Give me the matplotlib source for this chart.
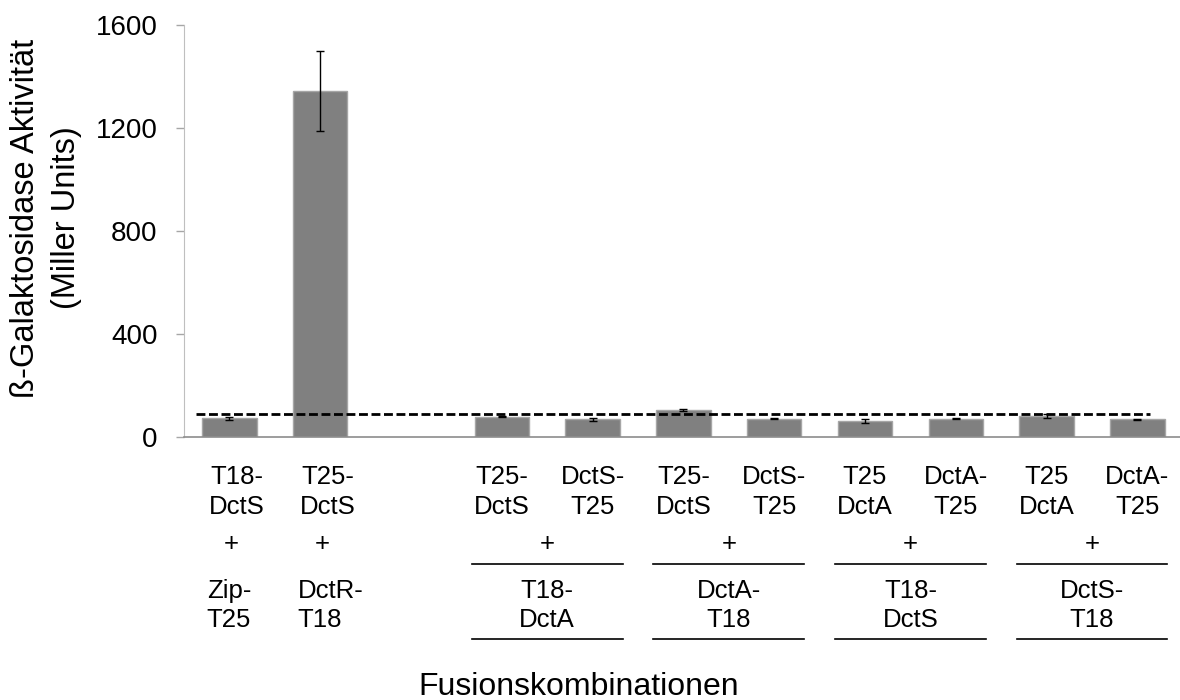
import numpy as np
import matplotlib
matplotlib.use("Agg")
import matplotlib.pyplot as plt
from matplotlib.transforms import blended_transform_factory

plt.rcParams['font.family'] = ['Liberation Sans', 'DejaVu Sans']

# bar slots (slot 2 is left empty)
positions = [0, 1, 3, 4, 5, 6, 7, 8, 9, 10]
values = [72, 1345, 79, 69, 105, 71, 62, 71, 81, 69]
errors = [6, 155, 3, 5, 3, 2, 6, 2, 7, 2]
threshold = 90

top_labels = ["T18-\nDctS", "T25-\nDctS",
              "T25-\nDctS", "DctS-\nT25",
              "T25-\nDctS", "DctS-\nT25",
              "T25\nDctA", "DctA-\nT25",
              "T25\nDctA", "DctA-\nT25"]

single_pos = [0, 1]
single_partners = ["Zip-\nT25", "DctR-\nT18"]

group_pos = [(3, 4), (5, 6), (7, 8), (9, 10)]
group_partners = ["T18-\nDctA", "DctA-\nT18", "T18-\nDctS", "DctS-\nT18"]

W, H = 1180, 700
fig = plt.figure(figsize=(W / 100, H / 100), dpi=100)
ax = fig.add_axes([184 / W, 263 / H, 998.8 / W, 412 / H])

ax.bar(positions, values, width=0.6, color='#808080', edgecolor='#a6a6a6', linewidth=1, zorder=2)
ax.errorbar(positions, values, yerr=errors, fmt='none', ecolor='black', elinewidth=1,
            capsize=3, capthick=1, zorder=3)
ax.plot([-0.37, 10.14], [threshold, threshold], color='black', lw=2,
        linestyle=(0, (3.2, 1.3)), zorder=4)

ax.set_xlim(-0.5, 10.5)
ax.set_ylim(0, 1600)
ax.set_yticks([0, 400, 800, 1200, 1600])
ax.set_xticks([])
ax.tick_params(axis='y', length=6, width=1, color='#a6a6a6', labelsize=20, pad=13)
for s in ['top', 'right']:
    ax.spines[s].set_visible(False)
ax.spines['left'].set_color('#bfbfbf')
ax.spines['bottom'].set_color('#8c8c8c')
ax.spines['bottom'].set_linewidth(1.2)

trans = blended_transform_factory(ax.transData, fig.transFigure)

def fy(py):
    return 1 - py / H

def put_lines(x, text, baselines, ha='center'):
    for line, b in zip(text.split("\n"), baselines):
        ax.text(x, fy(b), line, transform=trans, ha=ha, va='baseline', fontsize=18.5)

# first row of labels
for p, lab in zip(positions, top_labels):
    off = 0.08 if p in single_pos else 0
    put_lines(p + off, lab, [484, 514])

# plus signs and partners
for p, lab in zip(single_pos, single_partners):
    put_lines(p + 0.02, "+", [551])
    put_lines(p - 0.25, lab, [598, 627], ha='left')

for (a, b), lab in zip(group_pos, group_partners):
    c = (a + b) / 2
    put_lines(c, "+", [551])
    put_lines(c, lab, [598, 627])
    for py in [564, 639]:
        ax.plot([c - 0.83, c + 0.83], [fy(py), fy(py)], transform=trans, color='black',
                lw=1.2, clip_on=False)

fig.text(46 / W, fy(218), "ß-Galaktosidase Aktivität\n(Miller Units)", rotation=90,
         ha='center', va='center', multialignment='center', fontsize=23.5, linespacing=1.45)
fig.text(579 / W, fy(695), "Fusionskombinationen", ha='center', va='baseline', fontsize=23)

fig.savefig("out.png", dpi=100)
